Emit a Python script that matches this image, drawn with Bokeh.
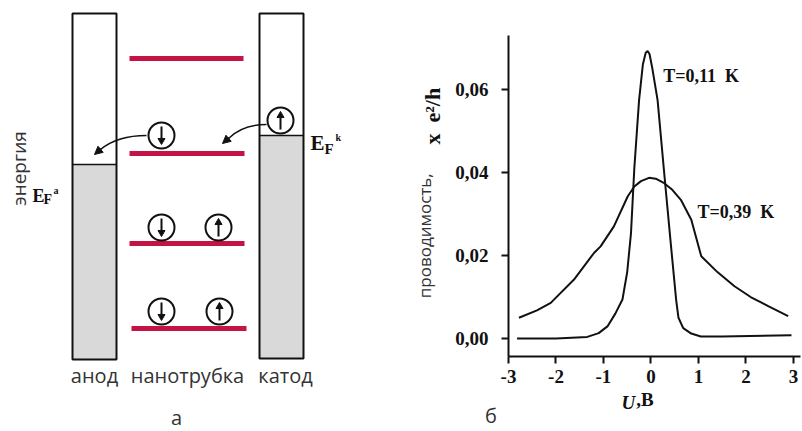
import numpy as np
from bokeh.plotting import figure
from bokeh.layouts import row, column
from bokeh.models import (Range1d, FixedTicker, Label, Arrow, NormalHead, ColumnDataSource,
                          LinearAxis)
from bokeh.core.properties import value
from bokeh.embed import file_html
from bokeh.resources import INLINE

# ---------------- panel б : conductance vs voltage ----------------
u_cold = [-2.82, -2.0, -1.34, -1.1, -0.91, -0.75, -0.6, -0.5, -0.42, -0.35, -0.25, -0.17,
          -0.11, -0.07, -0.03, 0.03, 0.14, 0.27, 0.40, 0.53, 0.58, 0.68, 0.85, 1.05, 1.5, 2.96]
g_cold = [0.0, 0.0, 0.0004, 0.0013, 0.003, 0.006, 0.0094, 0.016, 0.0254, 0.041, 0.0574, 0.066,
          0.0688, 0.0692, 0.0685, 0.065, 0.0574, 0.041, 0.025, 0.0094, 0.005, 0.0025, 0.0012,
          0.0005, 0.0005, 0.0008]
u_warm = [-2.78, -2.4, -2.11, -1.62, -1.2, -1.06, -0.78, -0.49, -0.35, -0.21, -0.04, 0.1,
          0.28, 0.45, 0.63, 0.85, 1.06, 1.4, 1.76, 2.1, 2.47, 2.89]
g_warm = [0.005, 0.0068, 0.0086, 0.0142, 0.0206, 0.0222, 0.027, 0.0342, 0.0366, 0.0379, 0.0387,
          0.0385, 0.0374, 0.0358, 0.0334, 0.0286, 0.0198, 0.016, 0.0126, 0.01, 0.0078, 0.0054]
x_ticks = [-3, -2, -1, 0, 1, 2, 3]
x_tick_labels = ["-3", "-2", "-1", "0", "1", "2", "3"]
y_ticks = [0.0, 0.02, 0.04, 0.06]
y_tick_labels = ["0,00", "0,02", "0,04", "0,06"]
curve_labels = ["T=0,11\u00a0\u00a0K", "T=0,39\u00a0\u00a0K"]
y_title_words = "проводимость,"
y_title_units = "x\u00a0\u00a0e²/h"
x_title_var = "U"
x_title_unit = ",В"
panel_letters = ["а", "б"]

# ---------------- panel а : energy diagram ----------------
electrode_names = ["анод", "нанотрубка", "катод"]
electrode_left = [72, 259]
electrode_right = [116, 303]
electrode_top = [13, 13]
electrode_bottom = [359, 358]
electrode_fermi = [164, 135]
level_y = [58, 153, 243, 328]
level_x0 = [129, 129, 129, 131]
level_x1 = [243, 244, 244, 246]
spin_x = [161, 280, 161, 218, 161, 219]
spin_y = [135, 120, 227, 227, 311, 311]
spin_dir = [-1, 1, -1, 1, -1, 1]

RED = "#c41446"
INK = "#111111"
GREY_TXT = "#333333"
NB = "\u00a0"

# ---------------- left figure ----------------
pa = figure(width=400, height=431, x_range=Range1d(0, 400), y_range=Range1d(431, 0),
            output_backend="svg", toolbar_location=None, x_axis_type=None, y_axis_type=None,
            min_border=0)
pa.outline_line_color = None

pa.quad(left=electrode_left, right=electrode_right, top=electrode_fermi, bottom=electrode_bottom,
        fill_color="#d9d9d9", line_color=None)
pa.quad(left=electrode_left, right=electrode_right, top=electrode_top, bottom=electrode_bottom,
        fill_color=None, line_color=INK, line_width=2)
pa.segment(x0=electrode_left, y0=electrode_fermi, x1=electrode_right, y1=electrode_fermi,
           line_color=INK, line_width=1.5)
pa.segment(x0=level_x0, y0=level_y, x1=level_x1, y1=level_y, line_color=RED, line_width=5)

pa.circle(x=spin_x, y=spin_y, radius=13, fill_color="white", line_color=INK, line_width=2)
shaft_y0 = [y + 9 * d for y, d in zip(spin_y, spin_dir)]
shaft_y1 = [y - 3 * d for y, d in zip(spin_y, spin_dir)]
head_y = [y - 5 * d for y, d in zip(spin_y, spin_dir)]
head_marker = ["triangle" if d > 0 else "inverted_triangle" for d in spin_dir]
pa.segment(x0=spin_x, y0=shaft_y0, x1=spin_x, y1=shaft_y1, line_color=INK, line_width=2)
pa.scatter(source=ColumnDataSource(dict(x=spin_x, y=head_y, m=head_marker)), x="x", y="y",
           marker="m", size=7, fill_color=INK, line_color=INK)

pa.quadratic(x0=[146, 266], y0=[135, 124], x1=[100, 228], y1=[149, 138],
             cx=[117, 242], cy=[135, 124], line_color=INK, line_width=1.5)
pa.add_layout(Arrow(end=NormalHead(size=8, fill_color=INK, line_color=INK),
                    x_start=101, y_start=148, x_end=94, y_end=154, line_width=1.5, line_color=INK))
pa.add_layout(Arrow(end=NormalHead(size=8, fill_color=INK, line_color=INK),
                    x_start=229, y_start=137, x_end=222, y_end=143, line_width=1.5, line_color=INK))

pa.text(x=[94, 187, 285], y=[375, 375, 375], text=electrode_names, text_align="center",
        text_baseline="middle", text_font=value("Open Sans"), text_font_size="20px",
        text_color=GREY_TXT)
pa.text(x=[176], y=[417], text=[panel_letters[0]], text_align="center", text_baseline="middle",
        text_font=value("Open Sans"), text_font_size="20px", text_color=GREY_TXT)
pa.text(x=[18], y=[168], text=["энергия"], angle=np.pi / 2, text_align="center",
        text_baseline="middle", text_font=value("Open Sans"), text_font_size="19px",
        text_color=GREY_TXT)

serif = value("Liberation Serif")
pa.text(x=[32], y=[195], text=["E"], text_font=serif, text_font_style="bold",
        text_font_size="18px", text_baseline="alphabetic", text_color=INK)
pa.text(x=[310], y=[142], text=["E"], text_font=serif, text_font_style="bold",
        text_font_size="21px", text_baseline="alphabetic", text_color=INK)
pa.text(x=[43], y=[199], text=["F"], text_font=serif, text_font_style="bold",
        text_font_size="14px", text_baseline="alphabetic", text_color=INK)
pa.text(x=[324], y=[148], text=["F"], text_font=serif, text_font_style="bold",
        text_font_size="15px", text_baseline="alphabetic", text_color=INK)
pa.text(x=[53, 335], y=[190, 137], text=["a", "k"], text_font=serif, text_font_style="bold",
        text_font_size="10px", text_baseline="alphabetic", text_color=INK)

# ---------------- right figure ----------------
pb = figure(width=402, height=431, x_range=Range1d(-3, 3.15), y_range=Range1d(-0.00432, 0.07296),
            output_backend="svg", toolbar_location=None,
            min_border_left=108, min_border_right=2, min_border_top=35, min_border_bottom=74)
pb.grid.visible = False
pb.outline_line_color = None

pb.line(u_cold, g_cold, line_width=2, line_color=INK)
pb.line(u_warm, g_warm, line_width=2, line_color=INK)

pb.xaxis.ticker = FixedTicker(ticks=x_ticks)
pb.xaxis.major_label_overrides = dict(zip(x_ticks, x_tick_labels))
pb.yaxis.ticker = FixedTicker(ticks=y_ticks)
pb.yaxis.major_label_overrides = dict(zip(y_ticks, y_tick_labels))
for ax in (pb.xaxis, pb.yaxis):
    ax.axis_line_width = 2
    ax.axis_line_color = INK
    ax.major_tick_line_width = 2
    ax.major_tick_line_color = INK
    ax.major_tick_in = 0
    ax.major_tick_out = 7
    ax.minor_tick_in = 0
    ax.minor_tick_out = 0
    ax.major_label_text_font = "Liberation Serif"
    ax.major_label_text_font_style = "bold"
    ax.major_label_text_font_size = "19px"
    ax.major_label_text_color = INK
pb.xaxis.major_label_standoff = 6
pb.yaxis.major_label_standoff = 13


def label_axis(text, standoff, font, style, size, color):
    """An axis that only carries a title (no line, ticks or tick labels)."""
    return LinearAxis(ticker=FixedTicker(ticks=[]), axis_line_color=None,
                      major_tick_out=0, major_tick_in=0, minor_tick_out=0, minor_tick_in=0,
                      major_label_text_font_size="0px", axis_label=text,
                      axis_label_standoff=standoff, axis_label_text_font=font,
                      axis_label_text_font_style=style, axis_label_text_font_size=size,
                      axis_label_text_color=color)


# y title: sans words on the main axis, bold-serif units on a title-only axis
pb.yaxis.axis_label = y_title_words + NB * 18
pb.yaxis.axis_label_text_font = "Open Sans"
pb.yaxis.axis_label_text_font_style = "normal"
pb.yaxis.axis_label_text_font_size = "17px"
pb.yaxis.axis_label_text_color = GREY_TXT
pb.yaxis.axis_label_standoff = 16
pb.add_layout(label_axis(NB * 29 + y_title_units, -34, "Liberation Serif", "bold", "22px", INK),
              "left")

# x title: italic U on the main axis, ",В" and the panel letter on title-only axes
pb.xaxis.axis_label = x_title_var + NB * 11
pb.xaxis.axis_label_text_font = "Liberation Serif"
pb.xaxis.axis_label_text_font_style = "bold italic"
pb.xaxis.axis_label_text_font_size = "19px"
pb.xaxis.axis_label_text_color = INK
pb.xaxis.axis_label_standoff = 6
pb.add_layout(label_axis(x_title_unit + NB * 4, -27, "Liberation Serif", "bold", "19px", INK),
              "below")
pb.add_layout(label_axis(panel_letters[1] + NB * 63, -14, "Open Sans", "normal", "20px", GREY_TXT),
              "below")

pb.add_layout(Label(x=0.26, y=0.0631, text=curve_labels[0], text_baseline="middle",
                    text_font="Liberation Serif", text_font_style="bold", text_font_size="18px",
                    text_color=INK))
pb.add_layout(Label(x=0.98, y=0.0305, text=curve_labels[1], text_baseline="middle",
                    text_font="Liberation Serif", text_font_style="bold", text_font_size="18px",
                    text_color=INK))

layout = row(column(pa), column(pb))
open("out.html", "w").write(file_html(layout, INLINE))
